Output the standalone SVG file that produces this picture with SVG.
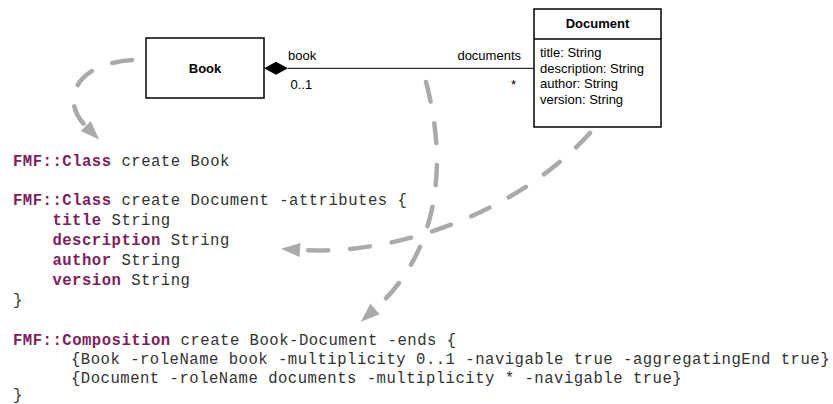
<svg xmlns="http://www.w3.org/2000/svg" width="833" height="404" viewBox="0 0 833 404">
<style>
.box{fill:#fff;stroke:#000;stroke-width:1.5}
.lbl{font-family:"Liberation Sans",Arial,sans-serif;font-size:13px;fill:#000}
.b{font-weight:bold}
.code{font-family:"Liberation Mono","Courier New",monospace;font-size:15.6px;letter-spacing:0.5px;fill:#333;white-space:pre}
.kw{font-weight:bold;fill:#7f1d5c}
.flow{fill:none;stroke:#aaa;stroke-width:4.5;stroke-linecap:round;stroke-dasharray:20 22}
</style>
<defs>
<marker id="ah" markerUnits="userSpaceOnUse" markerWidth="20" markerHeight="16" refX="0" refY="7" orient="auto" overflow="visible">
<path d="M0,0 L19,7 L0,14 z" fill="#aaa"/>
</marker>
</defs>
<g id="connectors">
<line x1="288" y1="68.3" x2="534" y2="68.3" stroke="#000" stroke-width="1"/>
<path d="M264,68.3 L276,61.8 L288,68.3 L276,74.8 z" fill="#000"/>
<text class="lbl" x="288" y="60">book</text>
<text class="lbl" x="290.5" y="89">0..1</text>
<text class="lbl" x="521" y="60" text-anchor="end">documents</text>
<text class="lbl" x="511" y="89">*</text>
</g>
<g id="Book">
<rect class="box" x="146" y="38" width="118" height="60"/>
<text class="lbl b" x="205" y="72.7" text-anchor="middle">Book</text>
</g>
<g id="Document">
<rect class="box" x="534" y="9" width="127" height="118"/>
<line x1="534" y1="39" x2="661" y2="39" stroke="#000" stroke-width="1.5"/>
<text class="lbl b" x="597.5" y="28" text-anchor="middle">Document</text>
<text class="lbl" x="540" y="56.5">title: String</text>
<text class="lbl" x="540" y="72.5">description: String</text>
<text class="lbl" x="540" y="88">author: String</text>
<text class="lbl" x="540" y="103.5">version: String</text>
</g>
<g id="code">
<text class="code" x="13" y="166"><tspan class="kw">FMF::Class</tspan> create Book</text>
<text class="code" x="13" y="205"><tspan class="kw">FMF::Class</tspan> create Document -attributes {</text>
<text class="code" x="52.4" y="225"><tspan class="kw">title</tspan> String</text>
<text class="code" x="52.4" y="245"><tspan class="kw">description</tspan> String</text>
<text class="code" x="52.4" y="265"><tspan class="kw">author</tspan> String</text>
<text class="code" x="52.4" y="285"><tspan class="kw">version</tspan> String</text>
<text class="code" x="13" y="305">}</text>
<text class="code" x="13" y="345"><tspan class="kw">FMF::Composition</tspan> create Book-Document -ends {</text>
<text class="code" x="71" y="364">{Book -roleName book -multiplicity 0..1 -navigable true -aggregatingEnd true}</text>
<text class="code" x="71" y="383">{Document -roleName documents -multiplicity * -navigable true}</text>
<text class="code" x="13" y="400">}</text>
</g>
<g id="flows">
<path class="flow" d="M132,60 C75,64 60,100 85.7,126" marker-end="url(#ah)"/>
<path class="flow" d="M590,133 C520,210 400,256 300,250" marker-end="url(#ah)"/>
<path class="flow" d="M426,82 C452,180 430,260 375,309" marker-end="url(#ah)"/>
</g>
</svg>
